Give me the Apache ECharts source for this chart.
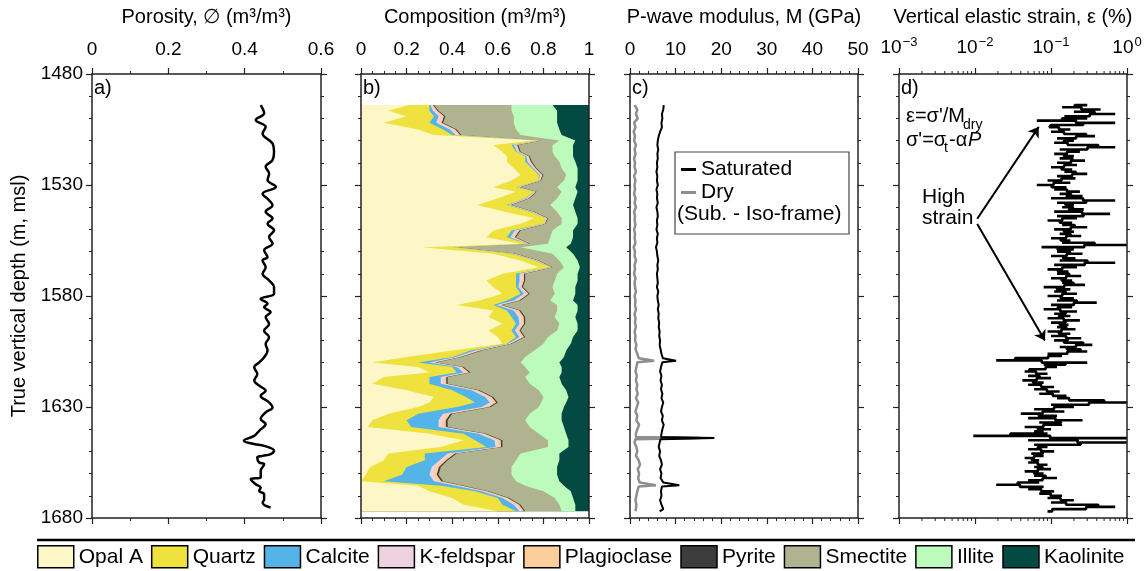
<!DOCTYPE html>
<html>
<head>
<meta charset="utf-8">
<script src="https://cdn.jsdelivr.net/npm/echarts@6/dist/echarts.min.js"></script>
<style>
  html, body { margin: 0; padding: 0; background: #fff; }
  #chart { width: 1148px; height: 571px; }
</style>
</head>
<body>
<div id="chart"></div>
<script>
  // ---- a) porosity log
  const porDepth = [1494.0, 1497.7, 1500.7, 1503.8, 1506.8, 1511.3, 1515.0, 1518.8, 1521.8, 1524.8,
    1527.8, 1530.8, 1533.9, 1536.9, 1539.1, 1542.1, 1545.1, 1547.4, 1550.4, 1553.4,
    1556.4, 1559.4, 1562.5, 1564.0, 1567.0, 1570.0, 1573.0, 1576.0, 1579.0, 1581.3,
    1583.5, 1585.0, 1587.3, 1589.5, 1592.6, 1595.6, 1598.6, 1601.6, 1604.6, 1607.6,
    1609.9, 1612.1, 1615.1, 1618.1, 1620.4, 1622.7, 1624.9, 1627.9, 1630.2, 1632.4,
    1635.4, 1637.7, 1640.7, 1643.0, 1645.2, 1646.7, 1647.5, 1649.7, 1651.2, 1652.0,
    1652.7, 1655.0, 1655.8, 1658.8, 1661.8, 1662.5, 1664.8, 1666.3, 1667.8, 1669.3,
    1671.6, 1673.1, 1675.3];
  const porosity = [0.442, 0.451, 0.429, 0.455, 0.447, 0.473, 0.477, 0.473, 0.455, 0.464,
    0.460, 0.482, 0.447, 0.464, 0.473, 0.455, 0.473, 0.460, 0.477, 0.464,
    0.473, 0.451, 0.460, 0.447, 0.455, 0.447, 0.464, 0.477, 0.477, 0.442,
    0.460, 0.451, 0.468, 0.455, 0.464, 0.451, 0.464, 0.455, 0.460, 0.451,
    0.438, 0.425, 0.433, 0.425, 0.438, 0.455, 0.442, 0.464, 0.473, 0.455,
    0.442, 0.455, 0.438, 0.425, 0.398, 0.425, 0.451, 0.477, 0.468, 0.447,
    0.433, 0.438, 0.451, 0.442, 0.442, 0.416, 0.429, 0.442, 0.438, 0.451,
    0.451, 0.447, 0.468];

  // ---- b) composition (volume fractions)
  const compDepth = [1494, 1496.5, 1499, 1502, 1505, 1507.5, 1510, 1512, 1515, 1517,
    1519.5, 1522.5, 1525.5, 1528, 1531, 1533, 1536, 1539, 1542, 1545,
    1547.5, 1550.5, 1553.5, 1556.5, 1558, 1561, 1564, 1567, 1570, 1573,
    1576, 1579, 1582, 1584, 1586.5, 1589.5, 1592.5, 1595.5, 1598.5, 1601.5,
    1604.5, 1607.5, 1610, 1612, 1614.5, 1616.5, 1619.5, 1622.5, 1625.5, 1628,
    1630, 1633, 1636, 1639, 1642, 1645, 1648, 1651, 1654, 1657,
    1660.5, 1663.5, 1665.5, 1668, 1671, 1674, 1677];
  const opalA = [.21, .12, .20, .10, .25, .32, .76, .58, .62, .64,
    .64, .67, .70, .66, .58, .68, .60, .51, .63, .76,
    .70, .58, .55, .70, .27, .58, .70, .78, .62, .55,
    .58, .62, .52, .42, .58, .56, .62, .56, .60, .62,
    .40, .20, .05, .25, .30, .10, .05, .20, .32, .30,
    .25, .12, .05, .03, .30, .45, .35, .12, .10, .04,
    .02, .00, .25, .30, .40, .45, .60];
  const quartz = [.09, .18, .12, .20, .11, .08, .02, .08, .06, .08,
    .08, .08, .08, .12, .10, .08, .12, .13, .11, .05,
    .10, .08, .09, .03, .13, .08, .06, .05, .06, .13,
    .10, .08, .12, .16, .06, .10, .06, .10, .08, .02,
    .08, .20, .20, .15, .12, .20, .25, .20, .14, .20,
    .17, .13, .15, .19, .15, .05, .20, .16, .18, .16,
    .16, .10, .10, .20, .20, .17, .08];
  const calcite = [.005, .015, .02, .03, .03, .015, 0, .01, .005, .005,
    .01, .005, .005, 0, .005, 0, .005, .005, .005, 0,
    0, .015, .015, 0, .005, .005, .005, 0, .015, .015,
    .01, .015, .03, .015, .03, .03, .015, .015, .015, .005,
    .02, .015, .05, .02, .03, .05, .05, .085, .085, .065,
    .11, .11, .14, .12, .065, .085, .04, .10, .065, .11,
    .12, .22, .065, .03, .02, .05, .015];
  const kFeldspar = [.006, .01, .012, .012, .012, .01, .004, .008, .006, .006,
    .008, .006, .006, .004, .006, .004, .006, .006, .006, .004,
    .004, .01, .01, .004, .006, .006, .006, .004, .01, .01,
    .008, .01, .012, .01, .012, .012, .01, .01, .01, .006,
    .012, .01, .012, .012, .012, .012, .012, .014, .014, .014,
    .016, .016, .016, .016, .014, .014, .012, .016, .014, .016,
    .016, .016, .014, .012, .012, .012, .01];
  const plagioclase = [.005, .01, .012, .012, .012, .01, .003, .007, .005, .005,
    .007, .005, .005, .003, .005, .003, .005, .005, .005, .003,
    .003, .01, .01, .003, .005, .005, .005, .003, .01, .01,
    .007, .01, .012, .01, .012, .012, .01, .01, .01, .005,
    .012, .01, .012, .012, .012, .012, .012, .014, .014, .014,
    .016, .016, .016, .016, .014, .014, .012, .016, .014, .016,
    .016, .016, .014, .012, .012, .012, .01];
  const pyrite = [.004, .005, .006, .006, .006, .005, .003, .005, .004, .004,
    .005, .004, .004, .003, .004, .003, .004, .004, .004, .003,
    .003, .005, .005, .003, .004, .004, .004, .003, .005, .005,
    .005, .005, .006, .005, .006, .006, .005, .005, .005, .004,
    .006, .005, .006, .006, .006, .006, .006, .007, .007, .007,
    .008, .008, .008, .008, .007, .007, .006, .008, .007, .008,
    .008, .008, .007, .006, .006, .006, .005];
  const smectite = [.34, .32, .30, .31, .26, .26, .08, .15, .14, .11,
    .12, .11, .10, .10, .16, .11, .12, .17, .10, .06,
    .07, .14, .15, .08, .28, .16, .09, .05, .14, .13,
    .13, .11, .13, .24, .16, .13, .15, .16, .10, .14,
    .23, .28, .37, .27, .26, .34, .36, .26, .22, .19,
    .21, .34, .34, .36, .23, .20, .20, .28, .30, .31,
    .32, .32, .27, .24, .20, .17, .16];
  const illite = [.18, .20, .19, .19, .19, .18, .07, .09, .09, .08,
    .07, .07, .05, .06, .08, .07, .08, .10, .08, .07,
    .07, .09, .10, .10, .20, .09, .08, .07, .09, .10,
    .10, .09, .10, .09, .09, .09, .08, .09, .11, .12,
    .14, .17, .17, .16, .14, .15, .14, .12, .11, .11,
    .11, .14, .16, .15, .12, .09, .09, .17, .19, .20,
    .20, .19, .17, .12, .08, .07, .06];
  const kaolinite = [.16, .14, .14, .14, .13, .12, .06, .07, .07, .07,
    .06, .05, .05, .05, .06, .05, .06, .07, .06, .05,
    .05, .07, .07, .08, .10, .07, .05, .04, .05, .05,
    .06, .06, .07, .05, .05, .06, .05, .05, .07, .08,
    .10, .11, .13, .12, .12, .13, .12, .10, .09, .10,
    .11, .12, .12, .11, .10, .09, .09, .13, .13, .14,
    .14, .13, .11, .08, .07, .06, .06];

  // ---- c) P-wave modulus (GPa)
  const modDepth = [1494, 1496, 1498, 1500, 1502, 1504, 1506, 1508, 1510, 1512,
    1514, 1516, 1518, 1520, 1522, 1524, 1526, 1528, 1530, 1532,
    1534, 1536, 1538, 1540, 1542, 1544, 1546, 1548, 1550, 1552,
    1554, 1556, 1558, 1560, 1562, 1564, 1566, 1568, 1570, 1572,
    1574, 1576, 1578, 1580, 1582, 1584, 1586, 1588, 1590, 1592,
    1594, 1596, 1598, 1600, 1602, 1604, 1606, 1608,
    1608.6, 1609.2, 1609.8,
    1612, 1614, 1616, 1618, 1620, 1622, 1624, 1626, 1628, 1630, 1632, 1634, 1636, 1638, 1640, 1642,
    1643.5, 1644, 1644.5,
    1646, 1648, 1650, 1652, 1654, 1656, 1658, 1660, 1662, 1664,
    1664.6, 1665.2, 1665.8,
    1668, 1670, 1672, 1674, 1676, 1677];
  const saturated = [7.4, 7.3, 7.0, 7.1, 6.9, 7.0, 6.6, 6.3, 6.1, 6.0,
    6.2, 6.0, 6.1, 5.9, 6.0, 5.8, 6.0, 5.9, 6.1, 5.8,
    6.0, 5.9, 6.1, 5.8, 6.0, 6.1, 5.9, 6.0, 5.8, 6.1,
    5.9, 6.0, 5.7, 5.9, 6.0, 6.2, 6.0, 6.1, 5.9, 6.0,
    6.1, 5.9, 6.2, 6.0, 6.1, 6.3, 6.1, 6.3, 6.2, 6.4,
    6.3, 6.5, 6.4, 6.6, 6.5, 6.7, 6.9, 7.2,
    7.0, 10.1, 7.1,
    6.8, 6.6, 6.9, 6.7, 7.0, 6.8, 7.1, 6.9, 7.3, 7.0, 6.8, 7.2, 7.0, 7.4, 7.1, 6.9,
    6.8, 18.5, 6.7,
    6.5, 6.3, 6.6, 6.4, 6.8, 7.0, 6.6, 6.9, 6.7, 7.3,
    7.1, 10.8, 7.0,
    6.8, 6.9, 6.6, 6.9, 7.3, 6.5];
  const dry = [1.0, 1.6, 1.3, 1.7, 0.9, 1.2, 0.8, 1.1, 0.9, 1.3,
    1.0, 1.2, 0.9, 1.1, 1.0, 1.3, 0.9, 1.2, 1.0, 1.1,
    0.9, 1.2, 1.0, 1.3, 0.9, 1.1, 1.0, 1.2, 0.9, 1.1,
    1.0, 1.2, 0.8, 1.1, 1.0, 1.3, 1.0, 1.1, 0.9, 1.2,
    1.0, 1.1, 1.3, 1.0, 1.2, 1.1, 1.3, 1.0, 1.2, 1.1,
    1.3, 1.0, 1.2, 1.1, 1.4, 1.2, 1.6, 1.9,
    1.7, 5.3, 1.6,
    1.4, 1.2, 1.5, 1.3, 1.6, 1.4, 1.7, 1.3, 1.8, 1.5, 1.2, 1.6, 1.4, 2.0, 1.6, 1.3,
    1.3, 15.2, 1.2,
    1.0, 1.4, 1.6, 1.3, 1.9, 2.2, 1.7, 2.0, 1.8, 2.1,
    2.0, 5.7, 1.9,
    1.6, 1.4, 1.2, 1.4, 1.3, 1.2];

  // ---- d) vertical elastic strain (%)
  const strainDepth = [1494, 1495, 1496, 1497, 1498, 1499, 1500, 1501, 1502, 1503,
    1504, 1505, 1506, 1507, 1508, 1509, 1510, 1511, 1512, 1513,
    1514, 1515, 1516, 1517, 1518, 1519, 1520, 1521, 1522, 1523,
    1524, 1525, 1526, 1527, 1528, 1529, 1530, 1531, 1532, 1533,
    1534, 1535, 1536, 1537, 1538, 1539, 1540, 1541, 1542, 1543,
    1544, 1545, 1546, 1547, 1548, 1549, 1550, 1551, 1552, 1553,
    1554, 1555, 1556, 1557, 1558, 1559, 1560, 1561, 1562, 1563,
    1564, 1565, 1566, 1567, 1568, 1569, 1570, 1571, 1572, 1573,
    1574, 1575, 1576, 1577, 1578, 1579, 1580, 1581, 1582, 1583,
    1584, 1585, 1586, 1587, 1588, 1589, 1590, 1591, 1592, 1593,
    1594, 1595, 1596, 1597, 1598, 1599, 1600, 1601, 1602, 1603,
    1604, 1605, 1606, 1607, 1608, 1609, 1610, 1611, 1612, 1613,
    1614, 1615, 1616, 1617, 1618, 1619, 1620, 1621, 1622, 1623,
    1624, 1625, 1626, 1627, 1628, 1629, 1630, 1631, 1632, 1633,
    1634, 1635, 1636, 1637, 1638, 1639, 1640, 1641, 1642, 1643,
    1644, 1645, 1646, 1647, 1648, 1649, 1650, 1651, 1652, 1653,
    1654, 1655, 1656, 1657, 1658, 1659, 1660, 1661, 1662, 1663,
    1664, 1665, 1666, 1667, 1668, 1669, 1670, 1671, 1672, 1673,
    1674, 1675, 1676, 1677];
  const strain = [0.30, 0.14, 0.45, 0.20, 0.70, 0.15, 0.30, 0.065, 0.70, 0.10,
    0.09, 0.18, 0.10, 0.22, 0.38, 0.12, 0.20, 0.11, 0.25, 0.70,
    0.13, 0.24, 0.11, 0.20, 0.13, 0.28, 0.12, 0.22, 0.10, 0.19,
    0.15, 0.30, 0.12, 0.21, 0.09, 0.18, 0.065, 0.16, 0.11, 0.24,
    0.13, 0.26, 0.10, 0.70, 0.12, 0.20, 0.14, 0.27, 0.11, 0.60,
    0.12, 0.22, 0.09, 0.19, 0.14, 0.30, 0.11, 0.20, 0.13, 0.25,
    0.10, 0.18, 0.14, 1.0, 0.075, 0.20, 0.12, 0.26, 0.10, 0.21,
    0.13, 0.70, 0.11, 0.22, 0.09, 0.17, 0.12, 0.25, 0.10, 0.19,
    0.14, 0.28, 0.08, 0.18, 0.11, 0.22, 0.09, 0.20, 0.12, 0.40,
    0.10, 0.19, 0.08, 0.22, 0.11, 0.18, 0.09, 0.24, 0.10, 0.17,
    0.12, 0.21, 0.09, 0.18, 0.10, 0.25, 0.11, 0.20, 0.35, 0.13,
    0.20, 0.30, 0.09, 0.14, 0.060, 0.019, 0.30, 0.08, 0.12, 0.06,
    0.045, 0.09, 0.05, 0.10, 0.042, 0.08, 0.05, 0.11, 0.06, 0.13,
    0.07, 0.16, 0.12, 0.25, 1.0, 0.10, 0.20, 0.06, 0.15, 0.04,
    0.12, 0.05, 0.26, 0.07, 0.14, 0.045, 0.10, 0.06, 0.09, 0.0095,
    1.0, 0.05, 1.0, 0.06, 0.09, 0.05, 0.11, 0.055, 0.08, 0.045,
    0.07, 0.05, 0.09, 0.06, 0.10, 0.045, 0.08, 0.06, 0.12, 0.05,
    0.07, 0.019, 0.08, 0.05, 0.11, 0.07, 0.14, 0.09, 0.20, 0.10,
    0.25, 0.70, 0.12, 0.09];
  const strainMinorTicks = [0.002, 0.003, 0.004, 0.005, 0.006, 0.007, 0.008, 0.009,
    0.02, 0.03, 0.04, 0.05, 0.06, 0.07, 0.08, 0.09,
    0.2, 0.3, 0.4, 0.5, 0.6, 0.7, 0.8, 0.9];

  const FONT = '"Liberation Sans", Arial, sans-serif';
  const AX = '#222';
  const TOP = 1480, BOTTOM = 1680;
  const TICK_FS = 19, NAME_FS = 20;

  const minerals = [
    ['Opal A', opalA, '#fdf7c8'],
    ['Quartz', quartz, '#efe23e'],
    ['Calcite', calcite, '#54b4e8'],
    ['K-feldspar', kFeldspar, '#efd1e1'],
    ['Plagioclase', plagioclase, '#fdcd9c'],
    ['Pyrite', pyrite, '#3c3c3c'],
    ['Smectite', smectite, '#b0b38f'],
    ['Illite', illite, '#bdfbbd'],
    ['Kaolinite', kaolinite, '#024a42'],
  ];
  // running sum of the fractions = right edge of each mineral band
  const bandEdge = [];
  let run = compDepth.map(() => 0);
  minerals.forEach((m) => {
    run = run.map((r, i) => r + m[1][i]);
    bandEdge.push(run);
  });

  const pairs = (xs, ds) => xs.map((v, i) => [v, ds[i]]);

  function xAxisPair(gi, cfg) {
    const base = {
      gridIndex: gi,
      type: cfg.type || 'value',
      min: cfg.min,
      max: cfg.max,
      z: 5,
      axisLine: { show: true, onZero: false, lineStyle: { color: AX, width: 1.5 } },
      axisTick: { show: true, length: 6, lineStyle: { color: AX, width: 1.2 } },
      minorTick: cfg.minor
        ? { show: true, splitNumber: cfg.minor, length: 3, lineStyle: { color: AX, width: 1 } }
        : { show: false },
      splitLine: { show: false },
    };
    if (cfg.interval) base.interval = cfg.interval;
    const top = Object.assign({}, base, {
      position: 'top',
      name: cfg.name,
      nameLocation: 'middle',
      nameGap: 47,
      nameTextStyle: { fontSize: NAME_FS, color: '#000', fontFamily: FONT },
      axisLabel: Object.assign(
        { fontSize: TICK_FS, color: '#000', margin: 15, fontFamily: FONT },
        cfg.label || {}
      ),
    });
    const bottom = Object.assign({}, base, { position: 'bottom', axisLabel: { show: false } });
    return [top, bottom];
  }

  function yAxisPair(gi, labels) {
    const base = {
      gridIndex: gi,
      type: 'value',
      inverse: true,
      min: TOP,
      max: BOTTOM,
      interval: 50,
      z: 5,
      axisLine: { show: true, onZero: false, lineStyle: { color: AX, width: 1.5 } },
      axisTick: { show: true, length: 6, lineStyle: { color: AX, width: 1.2 } },
      minorTick: { show: true, splitNumber: 5, length: 3, lineStyle: { color: AX, width: 1 } },
      splitLine: { show: false },
    };
    const left = Object.assign({}, base, {
      position: 'left',
      axisLabel: labels
        ? { fontSize: TICK_FS, color: '#000', margin: 9, fontFamily: FONT, formatter: (v) => String(v) }
        : { show: false },
    });
    if (labels) {
      Object.assign(left, {
        name: 'True vertical depth (m, msl)',
        nameLocation: 'middle',
        nameGap: 63,
        nameRotate: 90,
        nameTextStyle: { fontSize: NAME_FS, color: '#000', fontFamily: FONT },
      });
    }
    const right = Object.assign({}, base, { position: 'right', axisLabel: { show: false } });
    return [left, right];
  }

  const grids = [
    { left: 92, top: 74, width: 229, height: 444 },
    { left: 361, top: 74, width: 228, height: 444 },
    { left: 630, top: 74, width: 228, height: 444 },
    { left: 899, top: 74, width: 228, height: 444 },
  ];

  const xAxes = [].concat(
    xAxisPair(0, { name: 'Porosity, \u2205 (m\u00b3/m\u00b3)', min: 0, max: 0.6, interval: 0.2, minor: 2 }),
    xAxisPair(1, { name: 'Composition (m\u00b3/m\u00b3)', min: 0, max: 1, interval: 0.2, minor: 4 }),
    xAxisPair(2, { name: 'P-wave modulus, M (GPa)', min: 0, max: 50, interval: 10, minor: 5 }),
    xAxisPair(3, {
      name: 'Vertical elastic strain, \u03b5 (%)', type: 'log', min: 0.001, max: 1,
      label: {
        formatter: (v) => {
          const e = Math.round(Math.log10(v));
          return '{b|10}{s|' + (e < 0 ? '\u2212' + -e : e) + '}';
        },
        rich: {
          b: { fontSize: TICK_FS, fontFamily: FONT, color: '#000' },
          s: { fontSize: 13, fontFamily: FONT, color: '#000', padding: [0, 0, 10, 1] },
        },
      },
    })
  );
  const yAxes = [].concat(yAxisPair(0, true), yAxisPair(1, false), yAxisPair(2, false), yAxisPair(3, false));

  // composition bands: each drawn from 0 to its running-sum edge, widest first
  const compSeries = minerals.map((m, k) => ({
    name: m[0],
    type: 'custom',
    xAxisIndex: 2,
    yAxisIndex: 2,
    silent: true,
    itemStyle: { color: m[2] },
    encode: { x: 0, y: 1 },
    data: [[0, compDepth[0]]],
    renderItem: function (params, api) {
      const edge = bandEdge[k];
      const pts = [api.coord([0, compDepth[0]])];
      compDepth.forEach((d, i) => pts.push(api.coord([Math.min(edge[i], 1), d])));
      pts.push(api.coord([0, compDepth[compDepth.length - 1]]));
      return { type: 'polygon', shape: { points: pts }, style: { fill: m[2] } };
    },
  })).reverse();

  const txt = (left, top, text, size, extra) =>
    Object.assign({ type: 'text', left: left, top: top, z: 11,
      style: { text: text, fill: '#000', font: (extra || '') + size + 'px ' + FONT } });

  const chart = echarts.init(document.getElementById('chart'));
  chart.setOption({
    animation: false,
    textStyle: { fontFamily: FONT },
    grid: grids,
    xAxis: xAxes,
    yAxis: yAxes,
    legend: [
      {
        data: minerals.map((m) => m[0]),
        left: 37,
        top: 545,
        icon: 'rect',
        itemWidth: 36,
        itemHeight: 22,
        itemGap: 8,
        padding: 0,
        selectedMode: false,
        itemStyle: { borderColor: '#000', borderWidth: 1.5 },
        textStyle: { fontSize: 21, color: '#000', fontFamily: FONT },
      },
      {
        data: ['Saturated', 'Dry'],
        orient: 'vertical',
        left: 676,
        top: 154,
        icon: 'rect',
        itemWidth: 15,
        itemHeight: 3,
        itemGap: 2,
        selectedMode: false,
        textStyle: { fontSize: 21, color: '#000', fontFamily: FONT },
      },
    ],
    graphic: [
      txt(94, 78, 'a)', 20),
      txt(363, 78, 'b)', 20),
      txt(632, 78, 'c)', 20),
      txt(901, 78, 'd)', 20),
      { type: 'rect', shape: { x: 675, y: 152, width: 174, height: 82 }, style: { fill: 'none', stroke: '#444', lineWidth: 1.2 }, z: 10 },
      txt(677, 204, '(Sub. - Iso-frame)', 21),
      txt(906, 106, '\u03b5=\u03c3\'/M', 20),
      txt(963, 118, 'dry', 14),
      txt(906, 130, '\u03c3\'=\u03c3', 20),
      txt(944, 141, 't', 14),
      txt(949, 130, '-\u03b1', 20),
      txt(968, 130, 'P', 20, 'italic '),
      txt(922, 187, 'High', 21),
      txt(922, 208, 'strain', 21),
      { type: 'line', shape: { x1: 37, y1: 540, x2: 1135, y2: 540 }, style: { stroke: '#000', lineWidth: 2.5 } },
    ],
    series: [
      {
        type: 'line',
        xAxisIndex: 0,
        yAxisIndex: 0,
        data: pairs(porosity, porDepth),
        smooth: 0.4,
        showSymbol: false,
        lineStyle: { color: '#000', width: 2.5 },
      },
    ].concat(compSeries, [
      {
        name: 'Dry',
        type: 'line',
        xAxisIndex: 4,
        yAxisIndex: 4,
        data: pairs(dry, modDepth),
        showSymbol: false,
        color: '#8e8e8e',
        itemStyle: { color: '#8e8e8e' },
        lineStyle: { color: '#8e8e8e', width: 2.5 },
      },
      {
        name: 'Saturated',
        type: 'line',
        xAxisIndex: 4,
        yAxisIndex: 4,
        data: pairs(saturated, modDepth),
        showSymbol: false,
        color: '#000',
        itemStyle: { color: '#000' },
        lineStyle: { color: '#000', width: 2 },
      },
      {
        type: 'line',
        xAxisIndex: 6,
        yAxisIndex: 6,
        data: pairs(strain, strainDepth),
        step: 'middle',
        showSymbol: false,
        lineStyle: { color: '#000', width: 2.6 },
        markLine: {
          silent: true,
          symbol: ['none', 'arrow'],
          symbolSize: 10,
          label: { show: false },
          lineStyle: { color: '#000', width: 2, type: 'solid' },
          data: [
            [{ coord: [0.0107, 1545.2] }, { coord: [0.069, 1503.8] }],
            [{ coord: [0.0107, 1547.6] }, { coord: [0.083, 1600.1] }],
          ],
        },
      },
      {
        type: 'custom',
        xAxisIndex: 6,
        yAxisIndex: 6,
        silent: true,
        encode: { x: 0, y: 1 },
        data: strainMinorTicks.map((v) => [v, TOP]),
        renderItem: function (params, api) {
          const a = api.coord([api.value(0), TOP]);
          const b = api.coord([api.value(0), BOTTOM]);
          return {
            type: 'group',
            children: [
              { type: 'line', shape: { x1: a[0], y1: a[1], x2: a[0], y2: a[1] - 3 }, style: { stroke: AX, lineWidth: 1 } },
              { type: 'line', shape: { x1: b[0], y1: b[1], x2: b[0], y2: b[1] + 3 }, style: { stroke: AX, lineWidth: 1 } },
            ],
          };
        },
      },
    ]),
  });
</script>
</body>
</html>
